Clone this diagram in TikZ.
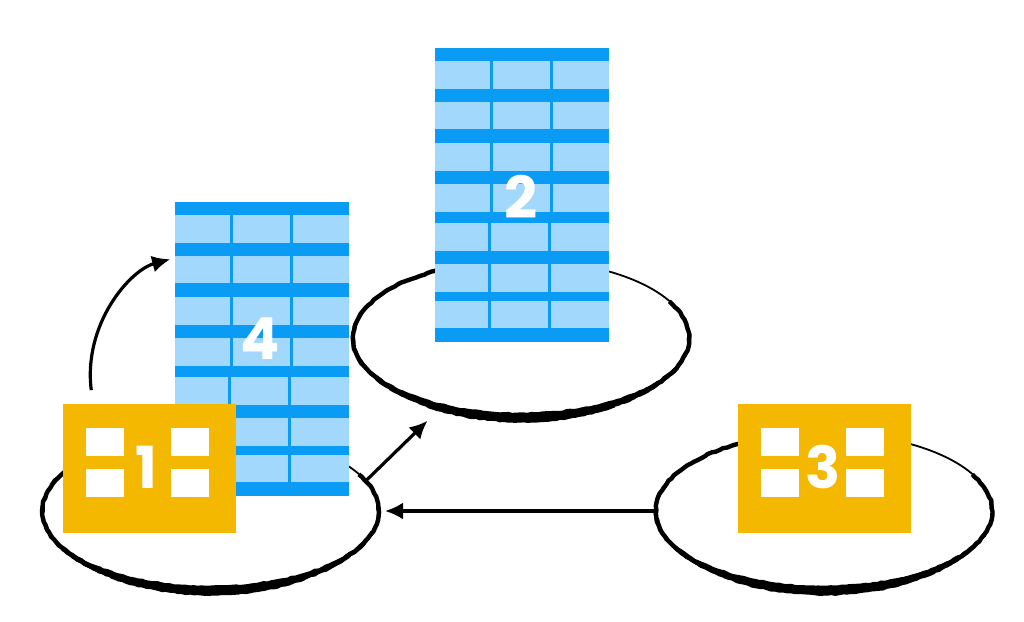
\documentclass[tikz,border=0pt]{standalone}
\usepackage{fontspec}
\setmainfont{Poppins}
\usetikzlibrary{shapes.geometric,arrows.meta,decorations.pathmorphing}
\definecolor{barblue}{HTML}{0A9BF5}
\definecolor{paneblue}{HTML}{A3D8FD}
\definecolor{boxyellow}{HTML}{F5B800}
\newcommand{\brushring}[1]{%
  \foreach \angA/\angB/\radx/\rady/\brushw in {-28/240/168/78/4.4,-5/205/168.5/76/3,15/175/167.5/80/3.4,35/150/166/81.5/3.2,55/128/163/83/3}
    \draw[brush,line width=\brushw pt] (#1.center) ++({\radx*cos(\angA)},{\rady*sin(\angA)}) arc[start angle=\angA,end angle=\angB,x radius=\radx,y radius=\rady];
}
\newcommand{\towerbars}[1]{%
  \begin{scope}[shift={(#1.north west)}]
    \foreach \y/\h in {0/13,41/13,81/14,123/13,164/11,203/13,244/9,280/14}
      \fill[barblue] (0,\y) rectangle (174,\y+\h);
    \foreach \x in {55,115}
      \fill[barblue] (\x,0) rectangle (\x+3,164);
    \foreach \x in {53,113}
      \fill[barblue] (\x,164) rectangle (\x+3,280);
  \end{scope}
}
\newcommand{\boxpanes}[1]{%
  \begin{scope}[shift={(#1.north west)}]
    \foreach \x in {23,108}
      \foreach \y in {24,65}
        \fill[white] (\x,\y) rectangle (\x+38,\y+28);
  \end{scope}
}
\begin{document}
\begin{tikzpicture}[
  x=1pt,y=-1pt,
  ring/.style={shape=ellipse,draw=black,line width=1.8pt,minimum width=337pt,minimum height=156pt,inner sep=0pt,outer sep=0pt},
  brush/.style={draw=black,decorate,decoration={random steps,segment length=4pt,amplitude=.6pt}},
  tower/.style={rectangle,fill=paneblue,minimum width=174pt,minimum height=294pt,inner sep=0pt,outer sep=0pt},
  block/.style={rectangle,fill=boxyellow,minimum width=173pt,minimum height=129pt,inner sep=0pt,outer sep=0pt},
  digit/.style={text=white,font=\fontsize{58}{58}\selectfont\bfseries,inner sep=0pt},
  arr/.style={-{Latex[length=18pt,width=17pt]},line width=3.2pt,color=black}
]
\useasboundingbox (0,0) rectangle (1024,621);
\pgfmathsetseed{7}

\node[ring] (e1) at (210.5,511) {};
\node[ring] (e2) at (521,338) {};
\node[ring] (e3) at (824,511) {};
\brushring{e1}
\brushring{e2}
\brushring{e3}

\node[tower] (b4) at (262,349) {};
\towerbars{b4}
\node[tower] (b2) at (521.5,195) {};
\towerbars{b2}
\node[block] (k1) at (149.5,468.5) {};
\boxpanes{k1}
\node[block] (k3) at (824.5,468.5) {};
\boxpanes{k3}

\node[digit] (n4) at (260,339) {4};
\node[digit] (n2) at (521,197) {2};
\node[digit] (n1) at (146,467) {1};
\node[digit] (n3) at (823,467) {3};

\draw[arr,shorten <=14pt,shorten >=5pt] ([xshift=30pt]k1.north west) .. controls +(-10,-80) and +(-45,12) .. ([yshift=-56pt]b4.north west);
\draw[arr,shorten >=20pt] (e1.11.3) -- (e2.221.4);
\draw[arr,shorten >=6pt] (e3.west) -- (e1.east);
\end{tikzpicture}
\end{document}
